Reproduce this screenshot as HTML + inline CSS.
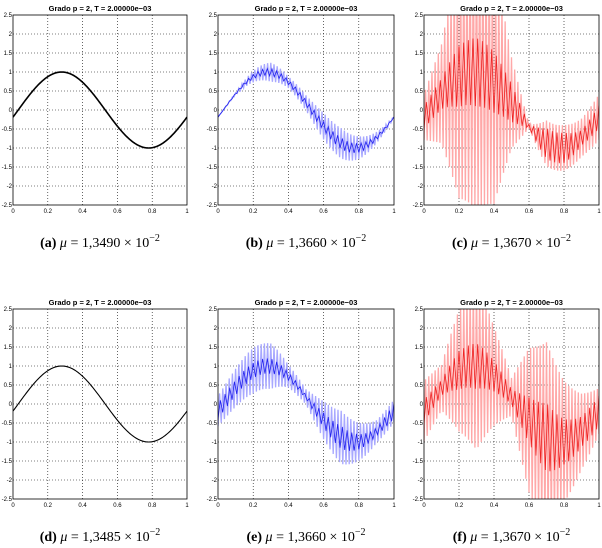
<!DOCTYPE html>
<html><head><meta charset="utf-8"><style>
body{margin:0;background:#fff;width:602px;height:548px;overflow:hidden}
svg{display:block}
.cap{font-family:"Liberation Serif",serif;font-size:14px}
</style></head><body>
<svg id="fig" width="602" height="548" xmlns="http://www.w3.org/2000/svg"></svg>
<script>
const knotsX=[0,0.1,0.2,0.3,0.4,0.5,0.6,0.7,0.8,0.9,1];
const yTicks=[-2.5,-2,-1.5,-1,-0.5,0,0.5,1,1.5,2,2.5];
const xTicks=[0,0.2,0.4,0.6,0.8,1];
const yTickLabels=["-2.5","-2","-1.5","-1","-0.5","0","0.5","1","1.5","2","2.5"];
const xTickLabels=["0","0.2","0.4","0.6","0.8","1"];
const outerB=[0,0.03,0.15,0.25,0.15,0.2,0.35,0.4,0.3,0.15,0.02];
const innerB=[0,0.02,0.06,0.1,0.06,0.08,0.12,0.15,0.12,0.06,0.01];
const outerC=[0.6,1.3,3.2,3.6,3.2,1.2,0.05,0.6,0.6,0.5,0.6];
const innerC=[0.3,0.4,0.8,0.9,0.8,0.5,0.05,0.4,0.4,0.2,0.3];
const outerE=[0.4,0.5,0.6,0.6,0.3,0.2,0.5,0.7,0.5,0.3,0.3];
const innerE=[0.2,0.2,0.2,0.2,0.1,0.05,0.2,0.3,0.2,0.1,0.2];
const outerF=[0.8,0.6,1.6,2.2,1.3,0.5,1.9,2.5,1.6,1,0.6];
const innerF=[0.3,0.2,0.5,0.6,0.4,0.2,0.6,0.9,0.6,0.4,0.4];
const zero=[0,0,0,0,0,0,0,0,0,0,0];
const captions=[["(a)","1,3490"],["(b)","1,3660"],["(c)","1,3670"],["(d)","1,3485"],["(e)","1,3660"],["(f)","1,3670"]];
const panels=[
 {x0:13,x1:187,y0:15,y1:205,outer:zero,inner:zero,col:"#000",light:"#000",w:1.6,name:"a"},
 {x0:218,x1:394,y0:15,y1:205,outer:outerB,inner:innerB,col:"#2222ee",light:"#a8a8ff",w:0.8,name:"b"},
 {x0:424,x1:599,y0:15,y1:205,outer:outerC,inner:innerC,col:"#ee2222",light:"#ffa8a8",w:0.8,name:"c"},
 {x0:13,x1:187,y0:309,y1:499,outer:zero,inner:zero,col:"#000",light:"#000",w:1.1,name:"d"},
 {x0:218,x1:394,y0:309,y1:499,outer:outerE,inner:innerE,col:"#2222ee",light:"#a8a8ff",w:0.8,name:"e"},
 {x0:424,x1:599,y0:309,y1:499,outer:outerF,inner:innerF,col:"#ee2222",light:"#ffa8a8",w:0.8,name:"f"}];
const NS="http://www.w3.org/2000/svg";
const svg=document.getElementById('fig');
function mk(t,a,p){const e=document.createElementNS(NS,t);for(const k in a)e.setAttribute(k,a[k]);(p||svg).appendChild(e);return e;}
function interp(arr,x){const i=Math.min(9,Math.floor(x*10));const t=x*10-i;return arr[i]*(1-t)+arr[i+1]*t;}
function base(x){return Math.sin(2*Math.PI*x-0.188);}
panels.forEach((P,pi)=>{
 const g=mk('g',{});
 
 
 const sx=v=>P.x0+v*(P.x1-P.x0);
 const sy=v=>P.y1-(v+2.5)/5*(P.y1-P.y0);
 const cp=mk('clipPath',{id:'cp'+pi},g);
 mk('rect',{x:P.x0,y:P.y0,width:P.x1-P.x0,height:P.y1-P.y0},cp);
 yTicks.forEach((v,i)=>{
  if(i>0&&i<yTicks.length-1){const l=mk('line',{x1:P.x0,x2:P.x1,y1:sy(v),y2:sy(v),stroke:'#000','stroke-width':0.6,'stroke-dasharray':'1,2'},g);
  }
  const t=mk('text',{x:P.x0-1,y:sy(v)+2,'font-size':6,'text-anchor':'end','font-family':'Liberation Sans Narrow, Liberation Sans, sans-serif'},g);
  t.textContent=yTickLabels[i];
  
 });
 xTicks.forEach((v,i)=>{
  if(i>0&&i<xTicks.length-1){const l=mk('line',{x1:sx(v),x2:sx(v),y1:P.y0,y2:P.y1,stroke:'#000','stroke-width':0.6,'stroke-dasharray':'1,2'},g);
  }
  const t=mk('text',{x:sx(v),y:P.y1+8,'font-size':6,'text-anchor':'middle','font-family':'Liberation Sans Narrow, Liberation Sans, sans-serif'},g);
  t.textContent=xTickLabels[i];
  
 });
 const layers=[[P.outer,P.light,1.3,110],[P.inner,P.col,P.w,75]];
 layers.forEach((L,li)=>{
  if(Math.max(...L[0])===0&&li===0)return;
  const N=Math.max(...L[0])===0?200:L[3];
  let pts=[];
  for(let i=0;i<=N;i++){const x=i/N;const s=(i%2?1:-1);pts.push(sx(x).toFixed(2)+','+sy(base(x)+s*interp(L[0],x)).toFixed(2));}
  const pl=mk('polyline',{points:pts.join(' '),fill:'none',stroke:L[1],'stroke-width':L[2],'clip-path':'url(#cp'+pi+')'},g);
  
  
 });
 const fr=mk('rect',{x:P.x0,y:P.y0,width:P.x1-P.x0,height:P.y1-P.y0,fill:'none',stroke:'#000','stroke-width':0.8},g);
 
 const tt=mk('text',{x:(P.x0+P.x1)/2,y:P.y0-4,'font-size':7.5,'text-anchor':'middle','font-family':'Liberation Sans Narrow, Liberation Sans, sans-serif','font-weight':'bold'},g);
 tt.textContent='Grado p = 2, T = 2.00000e\u221203';
 
 const c=mk('text',{x:(P.x0+P.x1)/2,y:P.y1+42,'text-anchor':'middle','class':'cap'},g);
 
 const cap=captions[pi];
 c.innerHTML='<tspan font-weight="bold">'+cap[0]+'</tspan> <tspan font-style="italic">\u03bc</tspan> = '+cap[1]+' \u00d7 10<tspan dy="-6" font-size="10">\u22122</tspan>';
});
</script>
</body></html>
